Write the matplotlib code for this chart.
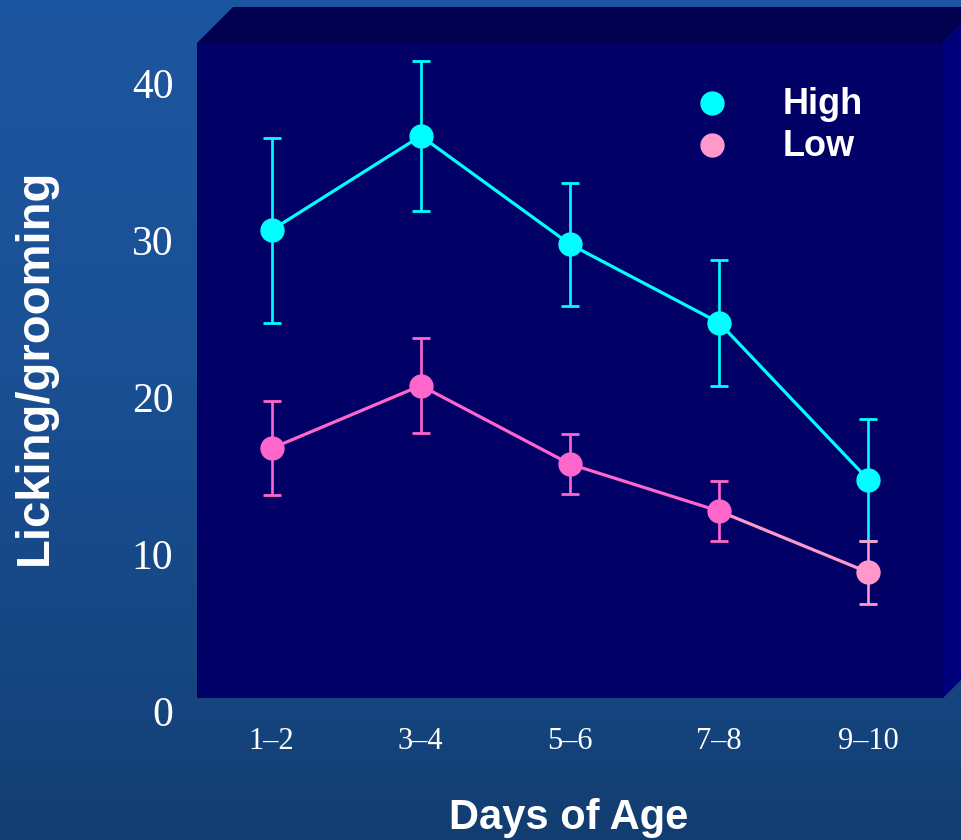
import numpy as np
import matplotlib
matplotlib.use("Agg")
import matplotlib.pyplot as plt
from matplotlib.patches import Polygon
import matplotlib.transforms as mtransforms
from matplotlib.colors import LinearSegmentedColormap

# ---- data ----
categories = ["1–2", "3–4", "5–6", "7–8", "9–10"]
high_vals = [29.8, 35.8, 28.9, 23.9, 13.9]
high_err = [5.9, 4.8, 3.9, 4.0, 3.9]
low_vals = [15.9, 19.9, 14.9, 11.9, 8.0]
low_err = [3.0, 3.0, 1.9, 1.9, 2.0]
low_colors = ["#FF66CC", "#FF66CC", "#FF66CC", "#FF66CC", "#FF99CC"]
yticks = [0, 10, 20, 30, 40]
series_names = ["High", "Low"]

W, H = 961, 840
fig = plt.figure(figsize=(W / 100, H / 100), dpi=100)

# ---- background ----
bg = fig.add_axes([0, 0, 1, 1], zorder=-10)
bg.set_xlim(0, W)
bg.set_ylim(H, 0)
bg.axis("off")
cmap = LinearSegmentedColormap.from_list(
    "bgc", [(0, "#1D56A0"), (0.45, "#1A4F93"), (0.8, "#164682"), (1, "#123D70")])
grad = np.linspace(0, 1, 256).reshape(-1, 1)
bg.imshow(grad, cmap=cmap, extent=[0, W, H, 0], aspect="auto", zorder=0)

# 3D box faces (pixel coordinates)
L, R, T, B = 197, 943, 43, 698
d = 36
top_face = Polygon([(L, T), (L + d, T - d), (R + d, T - d), (R, T)],
                   closed=True, facecolor="#00004E", edgecolor="none", zorder=1)
right_face = Polygon([(R, T), (R + d, T - d), (R + d, B - d), (R, B)],
                     closed=True, facecolor="#00007A", edgecolor="none", zorder=1)
bg.add_patch(top_face)
bg.add_patch(right_face)

# ---- main axes ----
ax = fig.add_axes([L / W, 1 - B / H, (R - L) / W, (B - T) / H], zorder=1)
ax.set_facecolor("#000066")
px_per_unit = 15.7
ax.set_ylim(0, (B - T) / px_per_unit)
ax.set_xlim(-0.5, len(categories) - 0.5)
for s in ax.spines.values():
    s.set_visible(False)

x = np.arange(len(categories))

# High series
ax.plot(x, high_vals, color="#00FFFF", lw=2.3, zorder=3)
ax.errorbar(x, high_vals, yerr=high_err, fmt="none", ecolor="#00FFFF",
            elinewidth=1.9, capsize=6.5, capthick=2.0, zorder=3)
ax.plot(x, high_vals, linestyle="none", marker="o", ms=16.5,
        color="#00FFFF", zorder=4)

# Low series
for i in range(len(x) - 1):
    ax.plot(x[i:i + 2], low_vals[i:i + 2], color=low_colors[i + 1], lw=2.3, zorder=3)
for i in range(len(x)):
    ax.errorbar(x[i], low_vals[i], yerr=low_err[i], fmt="none",
                ecolor=low_colors[i], elinewidth=1.9, capsize=6.5, capthick=2.0, zorder=3)
    ax.plot(x[i], low_vals[i], linestyle="none", marker="o", ms=16.5,
            color=low_colors[i], zorder=4)

# legend (manual)
leg_x = (712 - L) / 149.2 - 0.5
txt_x = (783 - L) / 149.2 - 0.5
for name, col, py in [("High", "#00FFFF", 103), ("Low", "#FF99CC", 145)]:
    yv = (B - py) / px_per_unit
    ax.plot([leg_x], [yv], marker="o", ms=16.5, color=col, linestyle="none", zorder=5)
    ax.text(txt_x, yv - 0.1, name, color="white", fontsize=26, fontweight="bold",
            family="Liberation Sans", va="center", ha="left", zorder=5)

# ticks
ax.set_yticks(yticks)
ax.set_yticklabels([str(v) for v in yticks], fontsize=30, color="white",
                   family="Liberation Serif")
ax.set_xticks(x)
ax.set_xticklabels(categories, fontsize=22, color="white", family="Liberation Serif")
ax.tick_params(axis="y", length=0, pad=17)
ax.tick_params(axis="x", length=0, pad=21)
offset = mtransforms.ScaledTranslation(0, -13 / 100, fig.dpi_scale_trans)
for lab in ax.get_yticklabels():
    lab.set_transform(lab.get_transform() + offset)

# axis titles
fig.text(35 / W, 1 - 367 / H, "Licking/grooming", rotation=90, color="white",
         fontsize=34, fontweight="bold", family="Liberation Sans",
         ha="center", va="center")
fig.text(569 / W, 1 - 818 / H, "Days of Age", color="white",
         fontsize=30, fontweight="bold", family="Liberation Sans",
         ha="center", va="center")

fig.savefig("out.png", dpi=100)
